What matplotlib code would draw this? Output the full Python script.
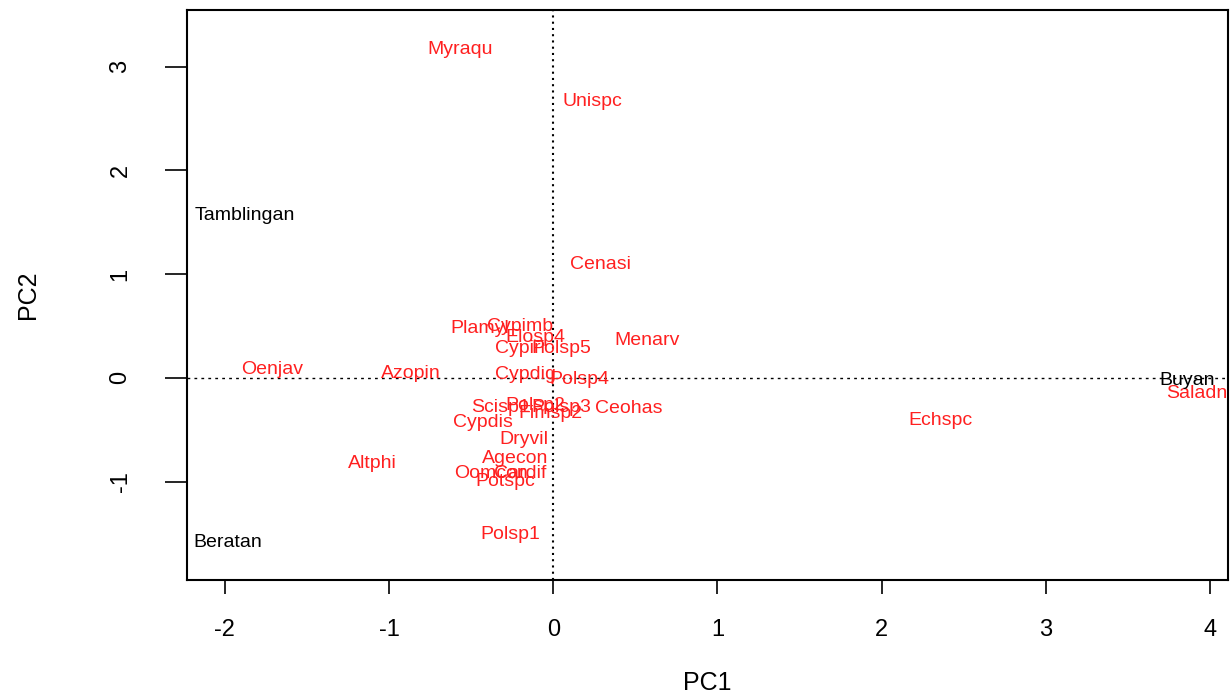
import matplotlib.pyplot as plt

plt.rcParams['font.family'] = ['Liberation Sans', 'DejaVu Sans']
plt.rcParams['axes.unicode_minus'] = False

# species scores (red labels)
species = ['Myraqu', 'Unispc', 'Cenasi', 'Menarv', 'Plamyl', 'Cypimb', 'Elosp4',
           'Cypiri', 'Polsp5', 'Oenjav', 'Azopin', 'Cypdig', 'Polsp4', 'Scisp1',
           'Polsp2', 'Polsp3', 'Fimsp2', 'Ceohas', 'Cypdis', 'Dryvil', 'Agecon',
           'Altphi', 'Oomcon', 'Cardif', 'Potspc', 'Polsp1', 'Echspc', 'Saladn']
sp_x = [-0.57, 0.24, 0.29, 0.57, -0.45, -0.20, -0.11,
        -0.20, 0.05, -1.71, -0.87, -0.17, 0.16, -0.32,
        -0.11, 0.05, -0.02, 0.46, -0.43, -0.18, -0.23,
        -1.10, -0.38, -0.20, -0.29, -0.26, 2.36, 3.92]
sp_y = [3.17, 2.67, 1.09, 0.36, 0.48, 0.50, 0.39,
        0.28, 0.28, 0.08, 0.04, 0.03, -0.02, -0.29,
        -0.27, -0.29, -0.34, -0.30, -0.43, -0.59, -0.78,
        -0.83, -0.92, -0.92, -1.00, -1.51, -0.41, -0.15]

# site scores (black labels)
sites = ['Tamblingan', 'Beratan', 'Buyan']
site_x = [-1.88, -1.98, 3.86]
site_y = [1.57, -1.59, -0.03]

fig = plt.figure(figsize=(12.31, 6.98), dpi=100)
ax = fig.add_axes([0.152, 0.169, 0.8456, 0.817])

for name, x, y in zip(species, sp_x, sp_y):
    ax.text(x, y, name, color='#ff2020', fontsize=14, ha='center', va='center', clip_on=True)
for name, x, y in zip(sites, site_x, site_y):
    ax.text(x, y, name, color='black', fontsize=14, ha='center', va='center', clip_on=True)

ax.axhline(0, color='black', linestyle=(0, (2, 3)), linewidth=1)
ax.axvline(0, color='black', linestyle=(0, (1, 2)), linewidth=1.5)

ax.set_xlim(-2.23, 4.11)
ax.set_ylim(-1.95, 3.55)
ax.set_xticks([-2, -1, 0, 1, 2, 3, 4])
ax.set_yticks([-1, 0, 1, 2, 3])
ax.tick_params(axis='x', length=10, width=1.2, labelsize=17, pad=18)
ax.tick_params(axis='y', length=16, width=1.2, labelsize=17, pad=24, labelrotation=90)
for lab in ax.get_yticklabels():
    lab.set_va('center')
for s in ax.spines.values():
    s.set_linewidth(1.5)

ax.set_xlabel('PC1', fontsize=18, labelpad=22)
ax.set_ylabel('PC2', fontsize=18, labelpad=50)

fig.savefig('out.png', dpi=100)
